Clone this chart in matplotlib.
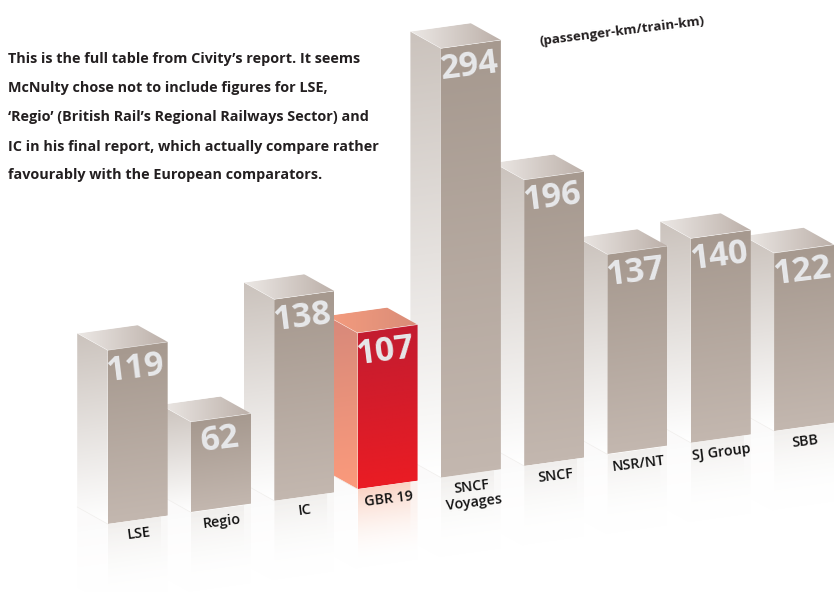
import numpy as np
from matplotlib import pyplot as plt
from matplotlib.colors import LinearSegmentedColormap
from matplotlib.patches import Polygon
from matplotlib.transforms import Affine2D

# Data
categories = ['LSE', 'Regio', 'IC', 'GBR 19', 'SNCF\nVoyages', 'SNCF', 'NSR/NT', 'SJ Group', 'SBB']
values = [119, 62, 138, 107, 294, 196, 137, 140, 122]
highlight = 'GBR 19'
unit_label = '(passenger-km/train-km)'
intro_lines = ['This is the full table from Civity\u2019s report. It seems',
               'McNulty chose not to include figures for LSE,',
               '\u2018Regio\u2019 (British Rail\u2019s Regional Railways Sector) and',
               'IC in his final report, which actually compare rather',
               'favourably with the European comparators.']

# Shades: (top, bottom) for upright faces, (left, right) for the lid
grey_front = ('#a6998f', '#c3b7af')
grey_side = ('#cbc3bd', '#ffffff')
grey_lid = ('#ece8e5', '#bcb0a9')
red_front = ('#c31c30', '#ea1c24')
red_side = ('#d7897a', '#fb9a7c')
red_lid = ('#f59c7e', '#d98c78')

font = 'Open Sans'
bar_w = 0.72        # front face width, in slots
depth_x = -0.366    # lid depth in slots
depth_y = 14.55     # lid depth in value units
mirror = 55         # reflection length in value units
tilt = 7.1


def ramp(colors):
    return LinearSegmentedColormap.from_list('r', colors)


def paint(ax, tf, corners, extent, colors, horizontal=False, z=2):
    # gradient image clipped to one face of a bar
    clip = Polygon(corners, closed=True, transform=tf, fc='none', ec='none', zorder=z)
    ax.add_patch(clip)
    grad = np.linspace(1, 0, 64).reshape(-1, 1)
    if horizontal:
        grad = np.linspace(0, 1, 64).reshape(1, -1)
    im = ax.imshow(grad, cmap=ramp(colors), vmin=0, vmax=1, extent=extent, aspect='auto',
                   transform=tf, interpolation='bilinear', zorder=z)
    im.set_clip_path(clip)


fig = plt.figure(figsize=(8.34, 5.92), dpi=100)
ax = fig.add_axes([0, 0, 1, 1])
ax.axis('off')

# slot number and value -> canvas position, the whole chart is sheared
tf = Affine2D(np.array([[83.3, 0, 107.7], [-11.6, -1.46, 524], [0, 0, 1]])) + ax.transData

# Reflections go underneath everything
for i, (cat, v) in enumerate(zip(categories, values)):
    tint = '#fad3c4' if cat == highlight else '#f1efed'
    paint(ax, tf, [(i, 0), (i + bar_w, 0), (i + bar_w, -mirror), (i, -mirror)],
          (i, i + bar_w, -mirror, 0), [(1, 1, 1, 0), tint], z=1)
    paint(ax, tf, [(i, 0), (i + depth_x, depth_y), (i + depth_x, depth_y - mirror), (i, -mirror)],
          (i + depth_x, i, -mirror, depth_y), [(1, 1, 1, 0), '#fbfafa'], z=1)

# Left bars stand in front of right bars, so go from the right
for i in range(len(values) - 1, -1, -1):
    cat, v = categories[i], values[i]
    z = 2 + (len(values) - i) * 0.1
    red = cat == highlight
    front = red_front if red else grey_front
    side = red_side if red else grey_side
    lid = red_lid if red else grey_lid

    paint(ax, tf, [(i, 0), (i, v), (i + depth_x, v + depth_y), (i + depth_x, depth_y)],
          (i + depth_x, i, 0, v + depth_y), side[::-1], z=z)
    paint(ax, tf, [(i, v), (i + bar_w, v), (i + bar_w + depth_x, v + depth_y), (i + depth_x, v + depth_y)],
          (i + depth_x, i + bar_w, v, v + depth_y), lid, horizontal=True, z=z)
    paint(ax, tf, [(i, 0), (i + bar_w, 0), (i + bar_w, v), (i, v)],
          (i, i + bar_w, 0, v), front[::-1], z=z)

    # faint light edges
    ax.plot([i + depth_x, i, i + bar_w], [v + depth_y, v, v], transform=tf, color='white',
            lw=0.4, alpha=0.6, zorder=z + 0.01)
    ax.plot([i + depth_x, i], [depth_y, 0], transform=tf, color='#f0eeec', lw=0.5, zorder=z + 0.01)

    ax.annotate(str(v), (i + bar_w / 2, v), xycoords=tf, xytext=(-1, -16), textcoords='offset points',
                ha='center', va='center', rotation=tilt, rotation_mode='anchor', color='#e7e8ea',
                fontsize=24.5, fontweight='bold', family=font, zorder=z + 0.02)
    ax.annotate(cat, (i + bar_w / 2, 0), xycoords=tf, xytext=(0, -5), textcoords='offset points',
                ha='center', va='top', rotation=tilt, rotation_mode='anchor', color='#111111',
                fontsize=10.3, fontweight='semibold', family=font, linespacing=1.15, zorder=z + 0.02)

for line, y in zip(intro_lines, [59, 88, 117, 147, 175]):
    ax.text(8, y, line, ha='left', va='center', color='#231f20', fontsize=10.4,
            fontweight='bold', family=font)

ax.text(622, 31, unit_label, ha='center', va='center', rotation=tilt, rotation_mode='anchor',
        color='#231f20', fontsize=9.6, fontweight='bold', family=font)

ax.set_xlim(0, 834)
ax.set_ylim(592, 0)

fig.savefig('out.png', dpi=100)
